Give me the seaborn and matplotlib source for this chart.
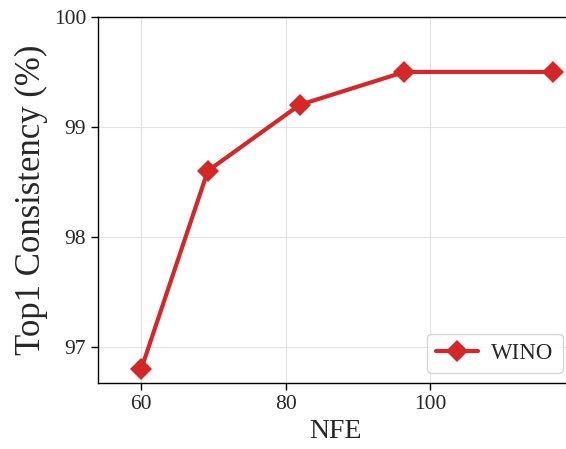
import pandas as pd
import matplotlib
matplotlib.use("Agg")
import matplotlib.pyplot as plt
import seaborn as sns

# NFE vs top1 consistency
nfe = [60, 69.2, 81.9, 96.4, 117.0]
consistency = [96.8, 98.6, 99.2, 99.5, 99.5]
series_name = "WINO"

sns.set_style("white")
plt.rcParams["font.family"] = ["Liberation Serif", "DejaVu Serif"]

df = pd.DataFrame({"NFE": nfe, "consistency": consistency})

fig = plt.figure(figsize=(5.66, 4.49), dpi=100)
# right spine falls just outside the canvas, as in the reference
ax = fig.add_axes([98 / 566, (449 - 383) / 449, (572 - 98) / 566, (383 - 17) / 449])

sns.lineplot(data=df, x="NFE", y="consistency", marker="D", color="#d62728",
             linewidth=3, markersize=11, markeredgewidth=0, label=series_name, ax=ax)

ax.set_xlim(54.0, 54.0 + (572 - 98) / 7.225)
ax.set_ylim(96.67, 100)
ax.set_xticks([60, 80, 100])
ax.set_yticks([97, 98, 99, 100])
ax.grid(True, color="#e3e3e3", linewidth=0.8)
ax.tick_params(axis="both", labelsize=15.5, direction="out", length=5, width=1, color="black",
               left=True, bottom=True)
for side in ["left", "bottom", "top", "right"]:
    ax.spines[side].set_color("black")
    ax.spines[side].set_linewidth(1.0)

ax.set_xlabel("NFE", fontsize=20)
ax.set_ylabel("Top1 Consistency (%)", fontsize=25)

leg = ax.legend(loc="lower right", fontsize=16.5, frameon=True, handlelength=1.8,
                handletextpad=0.6, borderaxespad=0,
                bbox_to_anchor=((563 - 98) / 474, 10 / 366))
leg.get_frame().set_edgecolor("#cccccc")

fig.savefig("out.png", dpi=100)
